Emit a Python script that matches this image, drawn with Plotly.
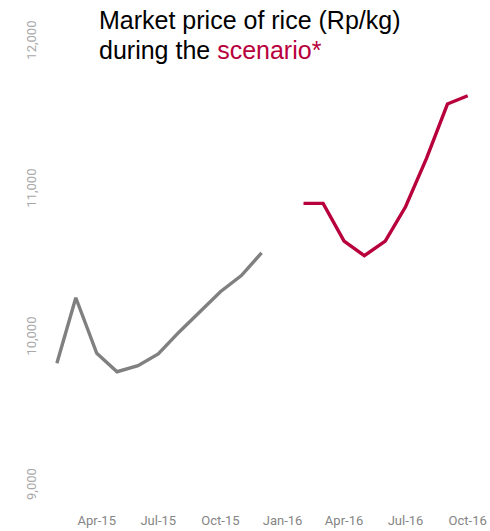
import plotly.graph_objects as go

# Data
hist_months = ["2015-02-01", "2015-03-01", "2015-04-01", "2015-05-01", "2015-06-01",
               "2015-07-01", "2015-08-01", "2015-09-01", "2015-10-01", "2015-11-01",
               "2015-12-01"]
hist_price = [9829, 10272, 9897, 9772, 9813, 9892, 10041, 10178, 10313, 10422, 10576]

scen_months = ["2016-02-01", "2016-03-01", "2016-04-01", "2016-05-01", "2016-06-01",
               "2016-07-01", "2016-08-01", "2016-09-01", "2016-10-01"]
scen_price = [10910, 10910, 10655, 10556, 10655, 10887, 11214, 11581, 11637]

x_tick_vals = ["2015-04-01", "2015-07-01", "2015-10-01", "2016-01-01",
               "2016-04-01", "2016-07-01", "2016-10-01"]
x_tick_text = ["Apr-15", "Jul-15", "Oct-15", "Jan-16", "Apr-16", "Jul-16", "Oct-16"]
y_tick_vals = [9000, 10000, 11000, 12000]
y_tick_text = ["9,000", "10,000", "11,000", "12,000"]

GRAY = "#808080"
RED = "#B8003C"
TITLE_FONT = dict(family="Liberation Sans, Arial", size=25, color="#000000")

fig = go.Figure()
fig.add_trace(go.Scatter(x=hist_months, y=hist_price, mode="lines",
                         line=dict(color=GRAY, width=3.4), hoverinfo="skip"))
fig.add_trace(go.Scatter(x=scen_months, y=scen_price, mode="lines",
                         line=dict(color=RED, width=3.4), hoverinfo="skip"))

fig.add_annotation(
    x=0.1333, y=0.9596, xref="paper", yref="paper", xanchor="left", yanchor="middle",
    align="left", showarrow=False, xshift=-3,
    text="Market price of rice (Rp/kg)", font=TITLE_FONT,
)
fig.add_annotation(
    x=0.1333, y=0.9018, xref="paper", yref="paper", xanchor="left", yanchor="middle",
    align="left", showarrow=False, xshift=-3,
    text="during the <span style='color:" + RED + "'>scenario*</span>", font=TITLE_FONT,
)

fig.update_layout(
    width=490, height=531,
    margin=dict(l=40, r=0, t=0, b=24),
    paper_bgcolor="white", plot_bgcolor="white",
    showlegend=False,
    xaxis=dict(
        type="date", range=["2015-01-07", "2016-11-03"],
        tickvals=x_tick_vals, ticktext=x_tick_text,
        showgrid=False, zeroline=False, showline=False, ticks="",
        ticklabelstandoff=4,
        tickfont=dict(family="Roboto", size=13, color="#858585"),
    ),
    yaxis=dict(
        range=[8858, 12284],
        tickvals=y_tick_vals, ticktext=y_tick_text, tickangle=-90,
        showgrid=False, zeroline=False, showline=False, ticks="",
        tickfont=dict(family="Roboto", size=13, color="#A8A8A8"),
    ),
)

fig.write_html("out.html")
